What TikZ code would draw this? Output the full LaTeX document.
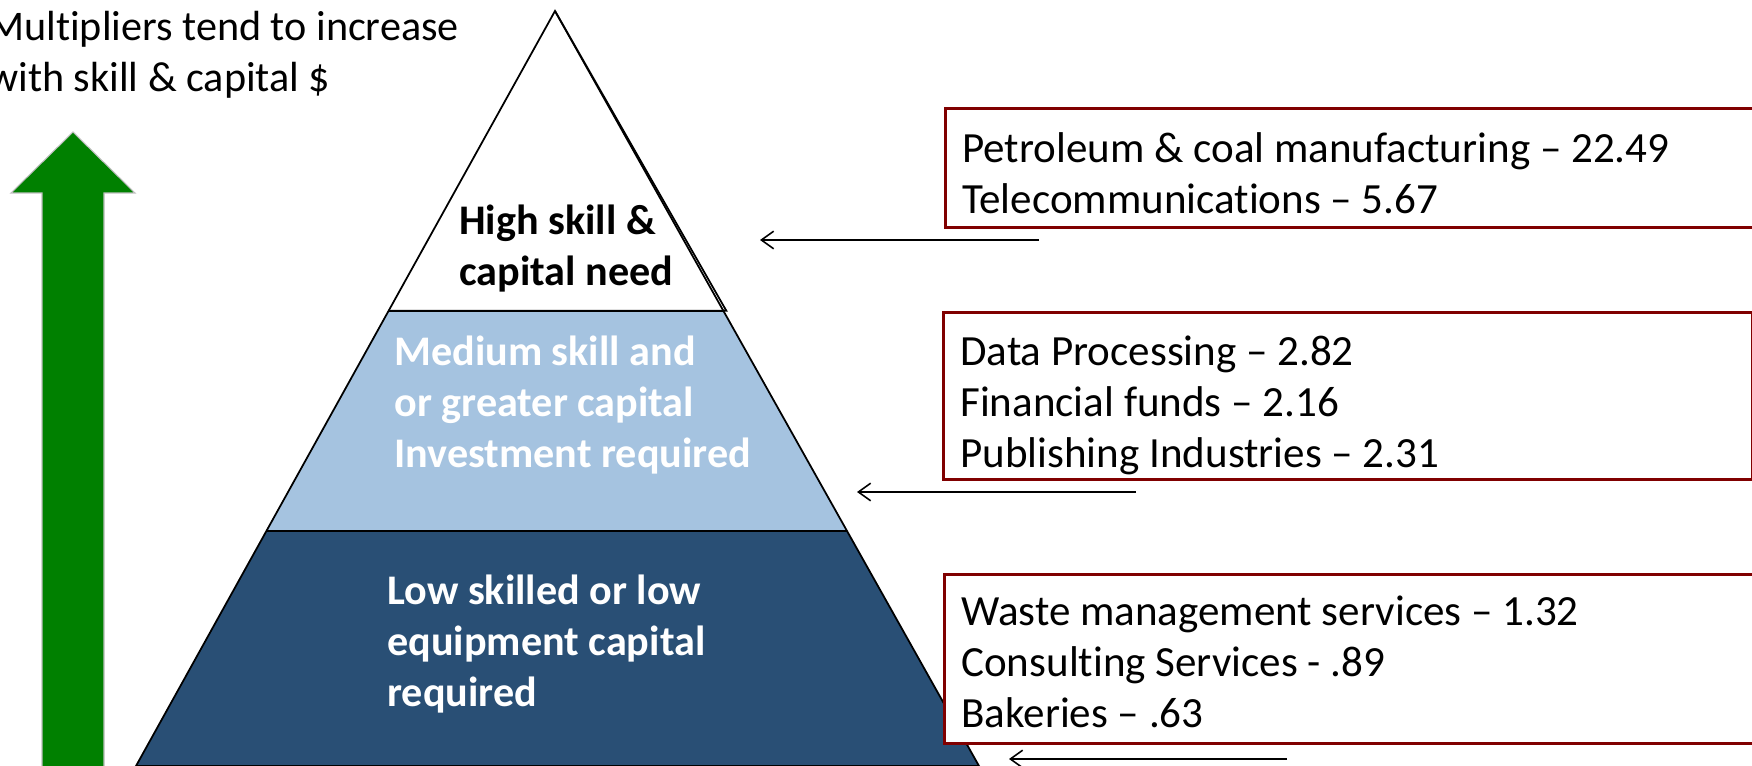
\documentclass[tikz,border=0pt]{standalone}
\usepackage{fontspec}
\setmainfont{Carlito}[Ligatures={TeX,NoCommon}]
\usetikzlibrary{arrows.meta,calc,positioning}

\definecolor{tiermid}{RGB}{165,195,224}
\definecolor{tierlow}{RGB}{41,79,117}
\definecolor{boxred}{RGB}{128,0,0}
\definecolor{upgreen}{RGB}{0,128,0}
\newcommand{\slidefont}{\fontsize{24}{29}\selectfont}
\newcommand{\listfont}{\fontsize{24.5}{29}\selectfont}

\begin{document}
\begin{tikzpicture}[x=0.02cm, y=-0.02cm, >={Straight Barb[length=7pt,width=10pt]},
    tiertext/.style={font=\slidefont\bfseries, align=left, text=white, inner sep=0pt},
    listbox/.style={draw=boxred, line width=1.7pt, fill=white, anchor=west, inner sep=0pt},
    listtext/.style={font=\listfont, align=left, anchor=west, inner sep=0pt},
    pointer/.style={->, line width=0.9pt}]

    \useasboundingbox (0,0) rectangle (1752,766);

    % pyramid
    \coordinate (top) at (555,11);
    \coordinate (bl)  at (136,766);
    \coordinate (br)  at (979,766);
    \coordinate (hl)  at ($(top)!0.397!(bl)$);
    \coordinate (hr)  at ($(top)!0.397!(br)$);
    \coordinate (ml)  at ($(top)!0.689!(bl)$);
    \coordinate (mr)  at ($(top)!0.689!(br)$);

    \fill[tierlow] (ml) -- (mr) -- (br) -- (bl) -- cycle;
    \fill[tiermid] (hl) -- (hr) -- (mr) -- (ml) -- cycle;
    \draw[line width=1pt] (top) -- ($(hr)+(3,0)$) -- (hl);
    \draw[line width=1pt] (top) -- (br) -- (bl) -- cycle;
    \draw[line width=1pt] (hl) -- (hr) (ml) -- (mr);

    \node[font=\slidefont\bfseries, align=left, inner sep=0pt, anchor=west] (high) at (459,249) {High skill \&\\capital need};
    \node[tiertext, anchor=west] (medium) at (394,405) {Medium skill and\\or greater capital\\Investment required};
    \node[tiertext, anchor=west] (low) at (387,644) {Low skilled or low\\equipment capital\\required};

    % growth arrow
    \draw[fill=upgreen, draw=black!25, line width=0.6pt]
        (42,768) -- (42,193) -- (11,193) -- (73,132) -- (135,193) -- (104,193) -- (104,768);

    \node[anchor=north west, align=left, font=\slidefont, inner sep=0pt] (title) at (-12,11)
        {Multipliers tend to increase\\with skill \& capital \$};

    % industry lists
    \node[listbox, minimum height=2.38cm, minimum width=17cm] (highlist) at (944,168) {};
    \node[listbox, minimum height=3.36cm, minimum width=16.18cm] (midlist) at (942,396) {};
    \node[listbox, minimum height=3.38cm, minimum width=17cm] (lowlist) at (943,659) {};

    \node[listtext] (hightext) at ($(highlist.west)+(18,5)$)
        {Petroleum \& coal manufacturing -- 22.49\\Telecommunications -- 5.67};
    \node[listtext] (midtext) at ($(midlist.west)+(18,9)$)
        {Data Processing -- 2.82\\Financial funds -- 2.16\\Publishing Industries -- 2.31};
    \node[listtext] (lowtext) at ($(lowlist.west)+(18,3)$)
        {Waste management services -- 1.32\\Consulting Services - .89\\Bakeries -- .63};

    \coordinate (p1s) at (1039,240);
    \coordinate (p1e) at (760,240);
    \coordinate (p2s) at (1136,492);
    \coordinate (p2e) at (857,492);
    \coordinate (p3s) at (1287,759);
    \coordinate (p3e) at (1009,759);
    \draw[pointer] (p1s) -- (p1e);
    \draw[pointer] (p2s) -- (p2e);
    \draw[pointer] (p3s) -- (p3e);

\end{tikzpicture}
\end{document}
